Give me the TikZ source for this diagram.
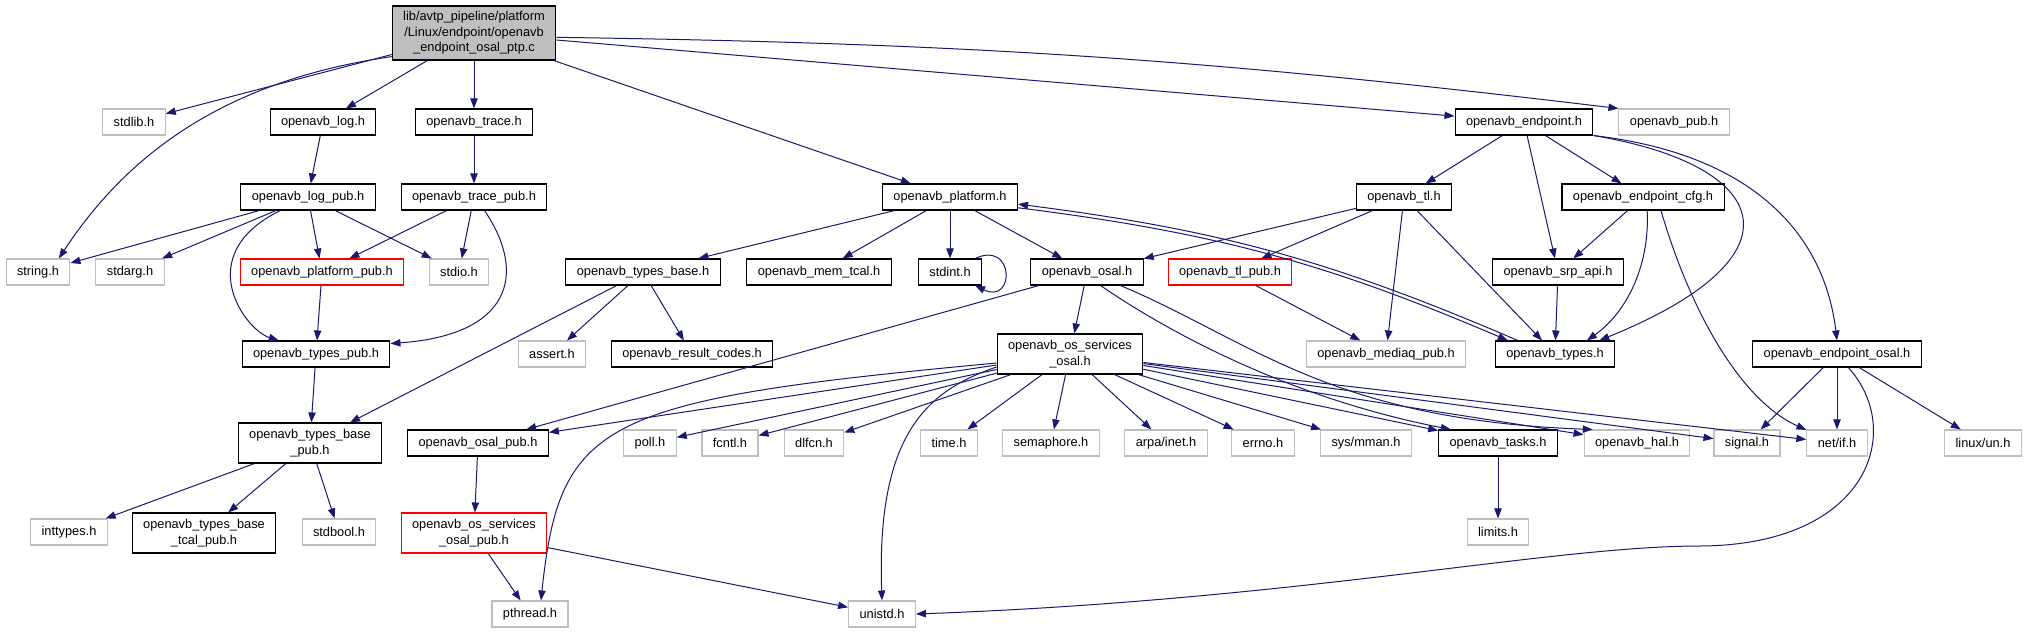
\documentclass[tikz,border=0pt]{standalone}
\usepackage{fontspec}
\setmainfont{Liberation Sans}
\definecolor{dxblue}{RGB}{25,25,112}
\definecolor{dxgrey}{RGB}{191,191,191}
\definecolor{dxred}{RGB}{255,0,0}
\usetikzlibrary{arrows.meta,positioning,calc}

\begin{document}
\begin{tikzpicture}[x=0.75pt,y=-0.75pt,
    every node/.style={font=\fontsize{9.6}{11.6}\selectfont},
    hfile/.style={draw,align=center,inner xsep=8.2pt,inner ysep=1pt,
                  minimum height=19.5pt,line width=0.8pt},
    doc/.style={hfile,draw=black},
    sys/.style={hfile,draw=dxgrey},
    bad/.style={hfile,draw=dxred},
    dep/.style={dxblue,line width=0.75pt,
                -{Triangle[length=7.5pt,width=5.5pt]}}]
  \useasboundingbox (0,0) rectangle (2028,633);

  \node[doc,fill=dxgrey,minimum height=40.5pt] (root) at (474,33)
        {lib/avtp\_pipeline/platform\\/Linux/endpoint/openavb\\\_endpoint\_osal\_ptp.c};
  \node[sys] (stdlib) at (134,122) {stdlib.h};
  \node[doc] (logh) at (323,122) {openavb\_log.h};
  \node[doc] (traceh) at (474,122) {openavb\_trace.h};
  \node[doc] (endpoint) at (1524,122) {openavb\_endpoint.h};
  \node[sys] (pub) at (1674,122) {openavb\_pub.h};

  \node[doc] (logpub) at (308,197) {openavb\_log\_pub.h};
  \node[doc] (tracepub) at (474,197) {openavb\_trace\_pub.h};
  \node[doc] (platform) at (950,197) {openavb\_platform.h};
  \node[doc] (tl) at (1404,197) {openavb\_tl.h};
  \node[doc] (cfg) at (1643,197) {openavb\_endpoint\_cfg.h};

  \node[sys] (string) at (38,272) {string.h};
  \node[sys] (stdarg) at (130,272) {stdarg.h};
  \node[bad] (platpub) at (322,272) {openavb\_platform\_pub.h};
  \node[sys] (stdio) at (459,272) {stdio.h};
  \node[doc] (typesbase) at (643,272) {openavb\_types\_base.h};
  \node[doc] (memtcal) at (819,272) {openavb\_mem\_tcal.h};
  \node[doc] (stdint) at (950,272) {stdint.h};
  \node[doc] (osal) at (1087,272) {openavb\_osal.h};
  \node[bad] (tlpub) at (1230,272) {openavb\_tl\_pub.h};
  \node[doc] (srp) at (1558,272) {openavb\_srp\_api.h};

  \node[doc] (typespub) at (316,354) {openavb\_types\_pub.h};
  \node[sys] (assert) at (552,354) {assert.h};
  \node[doc] (result) at (692,354) {openavb\_result\_codes.h};
  \node[doc,minimum height=30pt] (osserv) at (1070,354)
        {openavb\_os\_services\\\_osal.h};
  \node[sys] (mediaq) at (1386,354) {openavb\_mediaq\_pub.h};
  \node[doc] (types) at (1555,354) {openavb\_types.h};
  \node[doc] (eposal) at (1837,354) {openavb\_endpoint\_osal.h};

  \node[doc,minimum height=30pt] (typesbasepub) at (310,443)
        {openavb\_types\_base\\\_pub.h};
  \node[doc] (osalpub) at (478,443) {openavb\_osal\_pub.h};
  \node[sys] (poll) at (650,443) {poll.h};
  \node[sys] (fcntl) at (730,443) {fcntl.h};
  \node[sys] (dlfcn) at (814,443) {dlfcn.h};
  \node[sys] (timeh) at (949,443) {time.h};
  \node[sys] (semaphore) at (1051,443) {semaphore.h};
  \node[sys] (arpainet) at (1166,443) {arpa/inet.h};
  \node[sys] (errno) at (1263,443) {errno.h};
  \node[sys] (sysmman) at (1366,443) {sys/mman.h};
  \node[doc] (tasks) at (1498,443) {openavb\_tasks.h};
  \node[sys] (hal) at (1637,443) {openavb\_hal.h};
  \node[sys] (signal) at (1747,443) {signal.h};
  \node[sys] (netif) at (1837,443) {net/if.h};
  \node[sys] (linuxun) at (1983,443) {linux/un.h};

  \node[sys] (inttypes) at (69,532) {inttypes.h};
  \node[doc,minimum height=30pt] (tcalpub) at (204,533)
        {openavb\_types\_base\\\_tcal\_pub.h};
  \node[sys] (stdbool) at (339,532) {stdbool.h};
  \node[bad,minimum height=30pt] (ossvpub) at (474,533)
        {openavb\_os\_services\\\_osal\_pub.h};
  \node[sys] (limits) at (1498,532) {limits.h};

  \node[sys] (pthread) at (530,614) {pthread.h};
  \node[sys] (unistd) at (882,614) {unistd.h};

  \draw[dep] (root.196) .. controls (230,80) and (130,150) .. (string.33);
  \draw[dep] (root) -- (stdlib);
  \draw[dep] (root) -- (logh);
  \draw[dep] (root) -- (traceh);
  \draw[dep] (root) -- (platform);
  \draw[dep] (root) -- (endpoint);
  \draw[dep] (root.-3) to[bend left=3] (pub.north west);

  \draw[dep] (logh) -- (logpub);
  \draw[dep] (traceh) -- (tracepub);
  \draw[dep] (logpub) -- (string);
  \draw[dep] (logpub) -- (stdarg);
  \draw[dep] (logpub) -- (platpub);
  \draw[dep] (logpub) -- (stdio);
  \draw[dep] (logpub.206) .. controls (190,255) and (245,330) .. (typespub.160);
  \draw[dep] (tracepub) -- (platpub);
  \draw[dep] (tracepub) -- (stdio);
  \draw[dep] (tracepub.-52) .. controls (528,275) and (510,335) .. (typespub.8);
  \draw[dep] (platpub) -- (typespub);
  \draw[dep] (typespub) -- (typesbasepub);
  \draw[dep] (typesbasepub) -- (inttypes);
  \draw[dep] (typesbasepub) -- (tcalpub);
  \draw[dep] (typesbasepub) -- (stdbool);

  \draw[dep] (platform) -- (typesbase);
  \draw[dep] (platform) -- (memtcal);
  \draw[dep] (platform) -- (stdint);
  \draw[dep] (platform) -- (osal);
  \draw[dep] ($(stdint.north east)+(-7,0)$) .. controls (1015,240) and (1015,305)
        .. ($(stdint.south east)+(-7,0)$);
  \draw[dep] (platform.-9) to[bend left=8] (types.164);
  \draw[dep] (types.160) to[bend right=8] (platform.-6);
  \draw[dep] (typesbase) -- (typesbasepub);
  \draw[dep] (typesbase) -- (assert);
  \draw[dep] (typesbase) -- (result);

  \draw[dep] (osal) -- (osalpub);
  \draw[dep] (osal) -- (osserv);
  \draw[dep] (osal.-45) .. controls (1180,340) and (1300,400) .. (tasks.164);
  \draw[dep] (osal.-22) .. controls (1250,340) and (1330,420) .. (hal.163);

  \draw[dep] (osserv) -- (osalpub);
  \draw[dep] (osserv) -- (poll);
  \draw[dep] (osserv) -- (fcntl);
  \draw[dep] (osserv) -- (dlfcn);
  \draw[dep] (osserv) -- (timeh);
  \draw[dep] (osserv) -- (semaphore);
  \draw[dep] (osserv) -- (arpainet);
  \draw[dep] (osserv) -- (errno);
  \draw[dep] (osserv) -- (sysmman);
  \draw[dep] (osserv) -- (tasks);
  \draw[dep] (osserv) -- (hal);
  \draw[dep] (osserv) -- (signal);
  \draw[dep] (osserv) -- (netif);
  \draw[dep] (osserv.187) .. controls (600,400) and (560,420) .. (pthread.51);
  \draw[dep] (osserv.190) .. controls (930,390) and (876,430) .. (unistd.north);

  \draw[dep] (osalpub) -- (ossvpub);
  \draw[dep] (ossvpub) -- (pthread);
  \draw[dep] (ossvpub) -- (unistd);
  \draw[dep] (tasks) -- (limits);

  \draw[dep] (endpoint) -- (tl);
  \draw[dep] (endpoint) -- (srp);
  \draw[dep] (endpoint) -- (cfg);
  \draw[dep] (endpoint.south east) .. controls (1770,165) and (1810,255) .. (types.17);
  \draw[dep] (endpoint.south east) .. controls (1760,155) and (1825,240) .. (eposal.north);
  \draw[dep] (tl) -- (osal);
  \draw[dep] (tl) -- (tlpub);
  \draw[dep] (tl) -- (mediaq);
  \draw[dep] (tl) -- (types);
  \draw[dep] (tlpub) -- (mediaq);
  \draw[dep] (srp) -- (types);
  \draw[dep] (cfg) -- (srp);
  \draw[dep] (cfg.-73) .. controls (1650,260) and (1630,310) .. (types.23);
  \draw[dep] (cfg.-37) .. controls (1690,310) and (1740,400) .. (netif.157);
  \draw[dep] (eposal) -- (signal);
  \draw[dep] (eposal) -- (netif);
  \draw[dep] (eposal) -- (linuxun);
  \draw[dep] (eposal.-50) .. controls (1905,430) and (1870,545) .. (1700,546)
        .. controls (1550,546) and (1300,600) .. (unistd.east);
\end{tikzpicture}
\end{document}
